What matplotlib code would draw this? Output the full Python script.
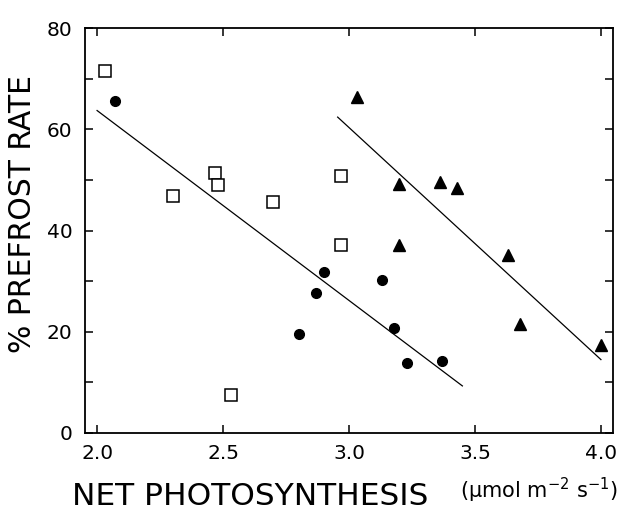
import numpy as np
import matplotlib
matplotlib.use('Agg')
import matplotlib.pyplot as plt

plt.rcParams['font.family'] = ['DejaVu Sans']
plt.rcParams['mathtext.default'] = 'regular'

###############################################################################

# Open squares
sq_x = [2.03, 2.30, 2.47, 2.48, 2.70, 2.53, 2.97, 2.97]
sq_y = [71.6, 46.8, 51.4, 49.0, 45.6, 7.6, 50.7, 37.2]

# Filled circles
ci_x = [2.07, 2.80, 2.87, 2.90, 3.13, 3.18, 3.23, 3.37]
ci_y = [65.5, 19.5, 27.7, 31.9, 30.2, 20.8, 13.9, 14.3]

# Filled triangles
tr_x = [3.03, 3.20, 3.36, 3.43, 3.20, 3.63, 3.68, 4.00]
tr_y = [66.3, 49.2, 49.6, 48.4, 37.2, 35.1, 21.5, 17.4]

# Regression lines (end points)
line1_x = [2.00, 3.45]
line1_y = [63.7, 9.3]
line2_x = [2.955, 4.00]
line2_y = [62.4, 14.5]

###############################################################################

fig = plt.figure(figsize=(6.24, 5.12), dpi=100)
ax = fig.add_axes([0.1362, 0.1543, 0.8462, 0.791])

ax.plot(line1_x, line1_y, color='black', lw=0.9)
ax.plot(line2_x, line2_y, color='black', lw=0.9)

ax.plot(sq_x, sq_y, 's', mfc='white', mec='black', mew=1.1, ms=8)
ax.plot(ci_x, ci_y, 'o', mfc='black', mec='black', ms=7)
ax.plot(tr_x, tr_y, '^', mfc='black', mec='black', ms=8.5)

ax.set_xlim(1.952, 4.048)
ax.set_ylim(0, 80)
ax.set_xticks([2.0, 2.5, 3.0, 3.5, 4.0])
ax.set_xticklabels(['2.0', '2.5', '3.0', '3.5', '4.0'])
ax.set_yticks(np.arange(0, 81, 20))
ax.set_yticks(np.arange(10, 80, 20), minor=True)

ax.tick_params(which='both', direction='in', top=True, right=True,
               length=6, width=1.1, labelsize=14.5)
ax.tick_params(axis='x', pad=8)
ax.tick_params(axis='y', pad=9)
for sp in ax.spines.values():
    sp.set_linewidth(1.3)

fig.text(0.036, 0.582, '% PREFROST RATE', fontsize=21.5, rotation=90,
         ha='center', va='center')
fig.text(0.115, 0.014, 'NET PHOTOSYNTHESIS', fontsize=22.5, ha='left',
         va='baseline')
fig.text(0.737, 0.026, r'(µmol m$^{-2}$ s$^{-1}$)', fontsize=15, ha='left',
         va='baseline')

plt.savefig('out.png', dpi=100)
